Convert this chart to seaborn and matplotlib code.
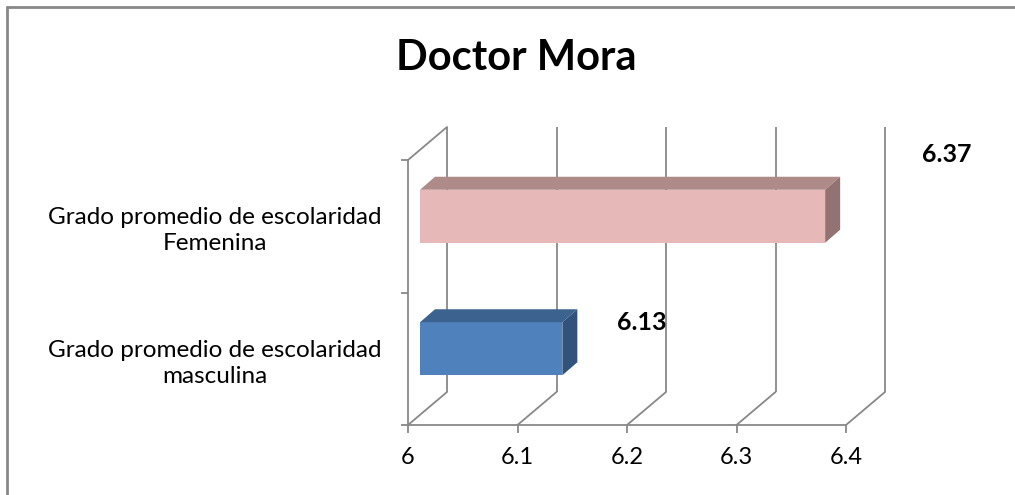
import numpy as np
import pandas as pd
import seaborn as sns
import matplotlib
matplotlib.use("Agg")
import matplotlib.pyplot as plt
from matplotlib.patches import Polygon, Rectangle
from matplotlib.transforms import ScaledTranslation, IdentityTransform

# Data
categories = ["Grado promedio de escolaridad\nFemenina",
              "Grado promedio de escolaridad\nmasculina"]
values = [6.37, 6.13]
x_ticks = [6, 6.1, 6.2, 6.3, 6.4]
title = "Doctor Mora"

# Colours (front, top, side)
front_colors = ["#E6B9B8", "#4F81BD"]
top_colors = ["#AE8B89", "#3C6390"]
side_colors = ["#937372", "#31527A"]
grid_color = "#888888"

sns.set_theme(style="white")
plt.rcParams["font.family"] = ["Lato", "DejaVu Sans"]
plt.rcParams["text.color"] = "black"
plt.rcParams["xtick.color"] = "black"
plt.rcParams["ytick.color"] = "black"

DPI = 100
fig = plt.figure(figsize=(10.15, 4.95), dpi=DPI)
ax = fig.add_axes([408 / 1015, 70 / 495, 438 / 1015, 265 / 495])

df = pd.DataFrame({"cat": categories, "val": values})
sns.barplot(data=df, x="val", y="cat", hue="cat", palette=front_colors,
            width=0.4, orient="h", legend=False, ax=ax, saturation=1,
            linewidth=0, edgecolor="none")

ax.set_xlim(x_ticks[0], x_ticks[-1])
ax.set_ylim(1.5, -0.5)

# depth of the 3d box (pixels) and where the bars sit inside it
DEPTH = np.array([39.0, 33.0])
BAR_FRONT = np.array([12.0, 10.0])
BAR_BACK = np.array([27.0, 23.0])


def shift(dx, dy):
    return ax.transData + ScaledTranslation(dx / DPI, dy / DPI, fig.dpi_scale_trans)


def px(x, y, off):
    return ax.transData.transform((x, y)) + off


y_lo, y_hi = 1.5, -0.5
line_kw = dict(color=grid_color, lw=1.3, clip_on=False)

# back wall gridlines
ax.vlines(x_ticks, y_lo, y_hi, transform=shift(*DEPTH), **line_kw)
# floor diagonals
for xt in x_ticks:
    p0 = px(xt, y_lo, 0)
    p1 = px(xt, y_lo, DEPTH)
    ax.add_line(plt.Line2D([p0[0], p1[0]], [p0[1], p1[1]],
                           transform=IdentityTransform(), **line_kw))
# left wall top diagonal
p0 = px(x_ticks[0], y_hi, 0)
p1 = px(x_ticks[0], y_hi, DEPTH)
ax.add_line(plt.Line2D([p0[0], p1[0]], [p0[1], p1[1]],
                       transform=IdentityTransform(), **line_kw))

# turn seaborn bars into 3d boxes
bars = [p for p in ax.patches if isinstance(p, Rectangle)]
for i, bar in enumerate(bars):
    yc = bar.get_y() + bar.get_height() / 2
    h = bar.get_height()
    v = bar.get_x() + bar.get_width()
    bar.set_x(x_ticks[0])
    bar.set_width(v - x_ticks[0])
    bar.set_transform(shift(*BAR_FRONT))
    bar.set_clip_on(False)
    bar.set_zorder(3)
    top_y = yc - h / 2
    bot_y = yc + h / 2
    top = [px(x_ticks[0], top_y, BAR_FRONT), px(v, top_y, BAR_FRONT),
           px(v, top_y, BAR_BACK), px(x_ticks[0], top_y, BAR_BACK)]
    side = [px(v, top_y, BAR_FRONT), px(v, bot_y, BAR_FRONT),
            px(v, bot_y, BAR_BACK), px(v, top_y, BAR_BACK)]
    ax.add_patch(Polygon(top, closed=True, fc=top_colors[i], ec="none",
                         transform=IdentityTransform(), clip_on=False, zorder=3))
    ax.add_patch(Polygon(side, closed=True, fc=side_colors[i], ec="none",
                         transform=IdentityTransform(), clip_on=False, zorder=3))

# data labels (Excel puts them oddly for 3d bars)
label_offsets = [(96, 52), (66, 26)]
for i, v in enumerate(values):
    ax.annotate(f"{v:.2f}", xy=(v, i), xytext=label_offsets[i],
                textcoords="offset points", ha="center", va="center",
                fontsize=18, fontweight="bold", color="black", annotation_clip=False)

# axes styling
for s in ["top", "right"]:
    ax.spines[s].set_visible(False)
for s in ["left", "bottom"]:
    ax.spines[s].set_color(grid_color)
    ax.spines[s].set_linewidth(1.3)
ax.set_xticks(x_ticks)
ax.set_xticklabels([f"{t:g}" for t in x_ticks], fontsize=17)
ax.set_yticks([1.5, 0.5, -0.5], minor=True)
ax.set_yticks([0, 1])
ax.set_yticklabels(categories, fontsize=17.5, ha="center", multialignment="center",
                   linespacing=1.3)
ax.tick_params(axis="y", which="major", length=0, pad=139)
ax.tick_params(axis="y", which="minor", length=5, color=grid_color, width=1.3, left=True)
ax.tick_params(axis="x", length=6, color=grid_color, width=1.3, bottom=True,
               pad=10, labelcolor="black")
ax.set_xlabel("")
ax.set_ylabel("")

fig.text(516 / 1015, 1 - 58 / 495, title, ha="center", va="center",
         fontsize=30, fontweight="bold", color="black")

# outer frame (only left and top edges visible)
fig.add_artist(plt.Line2D([7 / 1015, 7 / 1015], [0, 1 - 7 / 495],
                          transform=fig.transFigure, color=grid_color, lw=2))
fig.add_artist(plt.Line2D([7 / 1015, 1], [1 - 7 / 495, 1 - 7 / 495],
                          transform=fig.transFigure, color=grid_color, lw=2))

fig.savefig("out.png", dpi=DPI, facecolor="white")
